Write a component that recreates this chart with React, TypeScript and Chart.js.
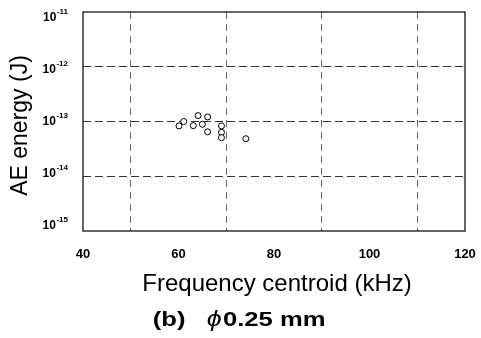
import React, { useEffect, useRef } from "react";
import { Chart, registerables } from "chart.js";

Chart.register(...registerables);

const freqKHz = [60.1, 61.1, 64.1, 63.1, 65.0, 66.1, 66.1, 69.0, 69.0, 69.0, 74.1];
const energyJ = [8.3e-14, 1.0e-13, 1.28e-13, 8.4e-14, 8.9e-14, 1.21e-13, 6.5e-14, 8.3e-14, 6.35e-14, 5.06e-14, 4.85e-14];

const xTickLabels = [40, 60, 80, 100, 120];
const xGridValues = [50, 70, 90, 110];
const yTickExponents = [-11, -12, -13, -14, -15];
const yGridExponents = [-12, -13, -14];

const xTitle = "Frequency centroid (kHz)";
const yTitle = "AE energy (J)";
const captionParts = ["(b)   ", "\u03D5", "0.25 mm"];

const FAMILY = '"Liberation Sans", Arial, Helvetica, sans-serif';

const textPlugin = {
  id: "textPlugin",
  afterDraw(chart: any) {
    const ctx = chart.ctx;
    const area = chart.chartArea;
    const xs = chart.scales.x;
    const ys = chart.scales.y;
    ctx.save();
    // frame
    ctx.strokeStyle = "#000";
    ctx.lineWidth = 1.2;
    ctx.setLineDash([]);
    ctx.strokeRect(area.left, area.top, area.right - area.left, area.bottom - area.top);

    ctx.fillStyle = "#000";
    // y tick labels
    const h = area.bottom - area.top;
    yTickExponents.forEach((e) => {
      const pix = ys.getPixelForValue(Math.pow(10, e));
      const cy = area.top + 5 + ((pix - area.top) * (h - 11)) / h;
      ctx.font = `bold 8px ${FAMILY}`;
      const expStr = String(e);
      const ew = ctx.measureText(expStr).width;
      const right = area.left - 15;
      ctx.textBaseline = "middle";
      ctx.textAlign = "left";
      ctx.fillText(expStr, right - ew, cy - 5);
      ctx.font = `bold 12px ${FAMILY}`;
      ctx.textAlign = "right";
      ctx.fillText("10", right - ew - 0.5, cy + 1);
    });

    // x tick labels
    ctx.font = `bold 13px ${FAMILY}`;
    ctx.textAlign = "center";
    ctx.textBaseline = "middle";
    xTickLabels.forEach((v) => {
      ctx.fillText(String(v), xs.getPixelForValue(v), area.bottom + 23);
    });

    // x title
    ctx.font = `24px ${FAMILY}`;
    ctx.fillText(xTitle, (area.left + area.right) / 2 + 3, area.bottom + 53);

    // y title
    ctx.save();
    ctx.translate(21, (area.top + area.bottom) / 2 + 4);
    ctx.rotate(-Math.PI / 2);
    ctx.font = `23px ${FAMILY}`;
    ctx.fillText(yTitle, 0, 0);
    ctx.restore();

    // caption (horizontally stretched bold text)
    const stretch = 1.22;
    const fonts = [`bold 21px ${FAMILY}`, `italic 22px ${FAMILY}`, `bold 21px ${FAMILY}`];
    const widths = captionParts.map((p, i) => {
      ctx.font = fonts[i];
      return ctx.measureText(p).width;
    });
    const total = widths.reduce((a, b) => a + b, 0) * stretch;
    ctx.save();
    ctx.translate(chart.width / 2 - total / 2 - 2, area.bottom + 89);
    ctx.scale(stretch, 1);
    ctx.textAlign = "left";
    let x = 0;
    captionParts.forEach((p, i) => {
      ctx.font = fonts[i];
      ctx.fillText(p, x, 0);
      x += widths[i] + (i === 1 ? 1 : 0);
    });
    ctx.restore();
    ctx.restore();
  },
};

function isDecade(v: number, list: number[]) {
  const e = Math.log10(v);
  const r = Math.round(e);
  return Math.abs(e - r) < 1e-6 && list.includes(r);
}

export default function App() {
  const ref = useRef<HTMLCanvasElement | null>(null);
  useEffect(() => {
    if (!ref.current) return;
    const points = freqKHz.map((f, i) => ({ x: f, y: energyJ[i] }));
    const chart = new Chart(ref.current, {
      type: "scatter",
      data: {
        datasets: [
          {
            data: points,
            pointStyle: "circle",
            pointRadius: 3,
            pointBorderWidth: 1,
            pointBorderColor: "#000",
            pointBackgroundColor: "#fff",
            borderColor: "#000",
            backgroundColor: "#fff",
          },
        ],
      },
      options: {
        responsive: false,
        animation: false,
        layout: { padding: { left: 83, right: 16, top: 12, bottom: 107 } },
        plugins: { legend: { display: false }, tooltip: { enabled: false } },
        scales: {
          x: {
            type: "linear",
            min: 40,
            max: 120,
            ticks: { display: false, stepSize: 10, autoSkip: false },
            border: { display: false, dash: [7, 5] },
            grid: {
              drawTicks: false,
              lineWidth: 1,
              color: (c: any) =>
                c.tick && xGridValues.includes(Math.round(c.tick.value)) ? "#666" : "rgba(0,0,0,0)",
            },
          },
          y: {
            type: "logarithmic",
            min: 1e-15,
            max: 1e-11,
            ticks: { display: false, autoSkip: false },
            border: { display: false, dash: [8, 4] },
            grid: {
              drawTicks: false,
              lineWidth: 1,
              color: (c: any) =>
                c.tick && isDecade(c.tick.value, yGridExponents) ? "#333" : "rgba(0,0,0,0)",
            },
          },
        },
      },
      plugins: [textPlugin],
    });
    return () => chart.destroy();
  }, []);
  return (
    <div style={{ position: "fixed", left: 0, top: 0, width: 481, height: 338, background: "#fff" }}>
      <canvas ref={ref} width={481} height={338} />
    </div>
  );
}
